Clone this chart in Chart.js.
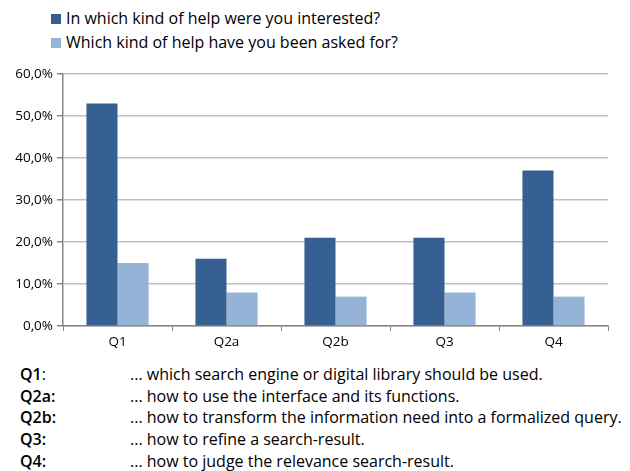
<!DOCTYPE html>
<html>
<head>
<meta charset="utf-8">
<script src="https://cdn.jsdelivr.net/npm/chart.js@4.4.0/dist/chart.umd.min.js"></script>
<style>
  body { margin: 0; width: 630px; height: 471px; background: #fff; font-family: "Open Sans", sans-serif; color: #000; position: relative; overflow: hidden; }
  #legend { position: absolute; left: 51px; top: 6px; font-size: 16px; }
  #legend div { height: 24px; line-height: 24px; }
  #legend span.box { display: inline-block; width: 10px; height: 10px; margin-right: 5px; vertical-align: 0px; }
  #wrap { position: absolute; left: 0; top: 60px; width: 630px; height: 300px; }
  #notes { position: absolute; left: 20px; top: 364px; font-size: 16px; }
  #notes div { height: 21.7px; line-height: 21.7px; white-space: nowrap; }
  #notes b { display: inline-block; width: 110px; font-weight: 600; }
</style>
</head>
<body>
<div id="legend"></div>
<div id="wrap"><canvas id="chart"></canvas></div>
<div id="notes"></div>
<script>
const categories = ["Q1", "Q2a", "Q2b", "Q3", "Q4"];
const interested = [53, 16, 21, 21, 37];
const askedFor = [15, 8, 7, 8, 7];
const seriesNames = ["In which kind of help were you interested?", "Which kind of help have you been asked for?"];
const seriesColors = ["#366092", "#95b3d7"];
const yTicks = [0, 10, 20, 30, 40, 50, 60];
const noteLabels = ["Q1", "Q2a:", "Q2b:", "Q3:", "Q4:"];
const noteTexts = [
    "... which search engine or digital library should be used.",
    "... how to use the interface and its functions.",
    "... how to transform the information need into a formalized query.",
    "... how to refine a search-result.",
    "... how to judge the relevance search-result."
];

const legend = document.getElementById("legend");
seriesNames.forEach((name, i) => {
    legend.innerHTML += `<div><span class="box" style="background:${seriesColors[i]}"></span>${name}</div>`;
});

const notes = document.getElementById("notes");
noteLabels.forEach((label, i) => {
    const inner = label === "Q1" ? `<b>Q1<span style="font-weight:normal">:</span></b>` : `<b>${label}</b>`;
    notes.innerHTML += `<div>${inner}${noteTexts[i]}</div>`;
});

const ctx = document.getElementById("chart").getContext("2d");

new Chart(ctx, {
    type: "bar",
    data: {
        labels: categories,
        datasets: [
            {
                label: seriesNames[0],
                data: interested,
                backgroundColor: seriesColors[0],
                categoryPercentage: 0.57,
                barPercentage: 1.0
            },
            {
                label: seriesNames[1],
                data: askedFor,
                backgroundColor: seriesColors[1],
                categoryPercentage: 0.57,
                barPercentage: 1.0
            }
        ]
    },
    options: {
        responsive: true,
        maintainAspectRatio: false,
        animation: false,
        layout: { padding: { top: 14, right: 22, left: 0, bottom: 0 } },
        plugins: {
            legend: { display: false },
            tooltip: { enabled: false }
        },
        scales: {
            x: {
                grid: { display: true, drawOnChartArea: false, offset: true, tickLength: 5, color: "#868686" },
                border: { color: "#868686", width: 1.5 },
                ticks: { color: "#000", font: { family: "Open Sans", size: 13.5 }, padding: 3 },
                afterFit: s => { s.height = 34; }
            },
            y: {
                min: 0,
                max: 60,
                afterBuildTicks: s => { s.ticks = yTicks.map(v => ({ value: v })); },
                grid: { color: "#bfbfbf", lineWidth: 1.5, tickLength: 6, tickColor: "#868686" },
                border: { color: "#868686", width: 1.5 },
                ticks: {
                    color: "#000",
                    font: { family: "Open Sans", size: 13.5 },
                    padding: 4,
                    callback: v => v.toFixed(1).replace(".", ",") + "%"
                },
                afterFit: s => { s.width = 63; }
            }
        }
    }
});
</script>
</body>
</html>
